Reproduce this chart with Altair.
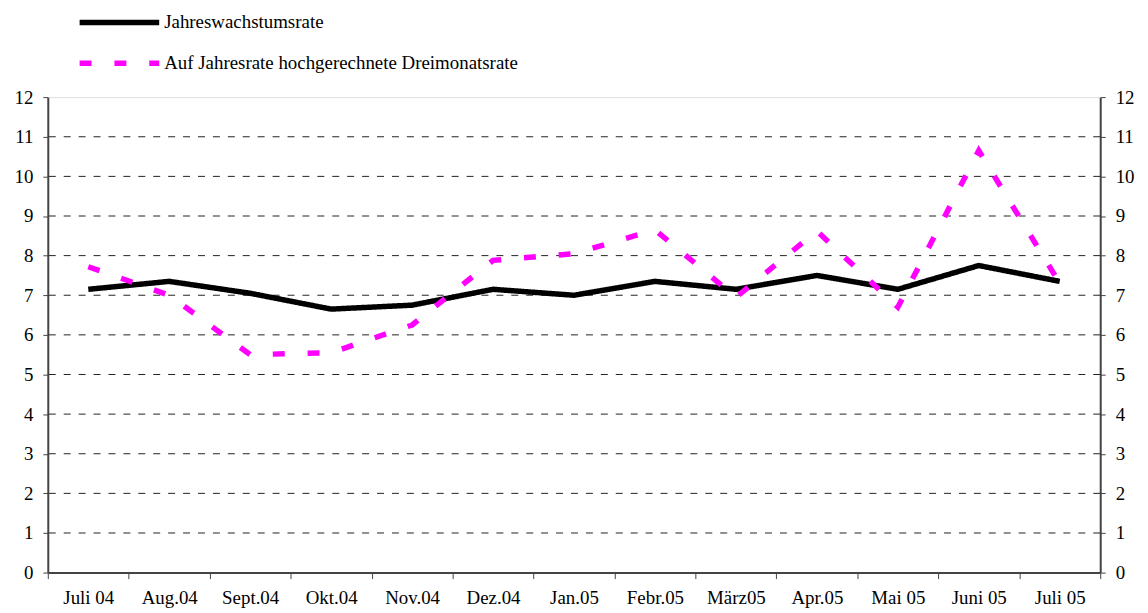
import altair as alt
import pandas as pd

months = ["Juli 04", "Aug.04", "Sept.04", "Okt.04", "Nov.04", "Dez.04", "Jan.05",
          "Febr.05", "März05", "Apr.05", "Mai 05", "Juni 05", "Juli 05"]
jahres = [7.15, 7.35, 7.05, 6.65, 6.75, 7.15, 7.0, 7.35, 7.15, 7.5, 7.15, 7.75, 7.35]
drei = [7.72, 7.0, 5.5, 5.55, 6.25, 7.88, 8.05, 8.65, 6.95, 8.62, 6.7, 10.65, 7.3]
series = ["Jahreswachstumsrate", "Auf Jahresrate hochgerechnete Dreimonatsrate"]
grid_values = list(range(1, 12))

rows = []
for m, a, b in zip(months, jahres, drei):
    rows.append({"Monat": m, "Serie": series[0], "Wert": a})
    rows.append({"Monat": m, "Serie": series[1], "Wert": b})
df = pd.DataFrame(rows)
grid_df = pd.DataFrame({"v": grid_values})

FONT = "Liberation Serif"
ydom = alt.Scale(domain=[0, 12], nice=False, zero=True)
xscale = alt.Scale(domain=months, paddingInner=0, paddingOuter=0)

xaxis = alt.Axis(title=None, labelAngle=0, tickBand="extent", tickSize=6,
                 labelPadding=10, labelFontSize=19, labelFont=FONT,
                 labelColor="black", domainColor="#444444", domainWidth=2,
                 tickColor="#444444", grid=False, labelLimit=0)

leg = alt.Legend(title=None, orient="none", legendX=59, legendY=-88,
                 symbolType="M-4,0H4", symbolSize=400,
                 symbolStrokeWidth=5.5, rowPadding=17,
                 labelFontSize=19, labelFont=FONT, labelColor="black",
                 labelOffset=32, labelLimit=0)

grid = alt.Chart(grid_df).mark_rule(color="#222222", strokeWidth=1, strokeDash=[7, 8]).encode(
    y=alt.Y("v:Q", scale=ydom, axis=None)
)

lines = alt.Chart(df).mark_line(strokeWidth=5.5, strokeCap="butt").encode(
    x=alt.X("Monat:N", sort=months, scale=xscale, axis=xaxis),
    y=alt.Y("Wert:Q", scale=ydom,
            axis=alt.Axis(title=None, values=list(range(0, 13)), tickSize=5,
                          labelPadding=10, labelFontSize=19, labelFont=FONT,
                          labelColor="black", domainColor="#444444", domainWidth=2,
                          tickColor="#444444", grid=False)),
    color=alt.Color("Serie:N", scale=alt.Scale(domain=series, range=["black", "#ff00ff"]),
                    legend=leg),
    strokeDash=alt.StrokeDash("Serie:N", scale=alt.Scale(domain=series, range=[[1, 0], [12, 23]]),
                              legend=leg),
)

right = alt.Chart(df).mark_line(opacity=0).encode(
    x=alt.X("Monat:N", sort=months, scale=xscale, axis=xaxis),
    y=alt.Y("Wert:Q", scale=ydom,
            axis=alt.Axis(title=None, orient="right", values=list(range(0, 13)), tickSize=5,
                          labelPadding=10, labelFontSize=19, labelFont=FONT,
                          labelColor="black", domainColor="#444444", domainWidth=2,
                          tickColor="#444444", grid=False)),
)

chart = alt.layer(grid, lines, right).resolve_scale(y="independent").properties(
    width=1058, height=478,
    padding={"left": 40, "top": 88, "right": 40, "bottom": 39},
    autosize=alt.AutoSizeParams(type="none"),
).configure_view(stroke="#808080", strokeWidth=1.5).configure_axis(
    labelFont=FONT, labelFontSize=19, labelColor="black"
).configure_legend(labelFont=FONT).configure(background="white")

chart.save("out.html", embed_options={"renderer": "svg", "actions": False})
